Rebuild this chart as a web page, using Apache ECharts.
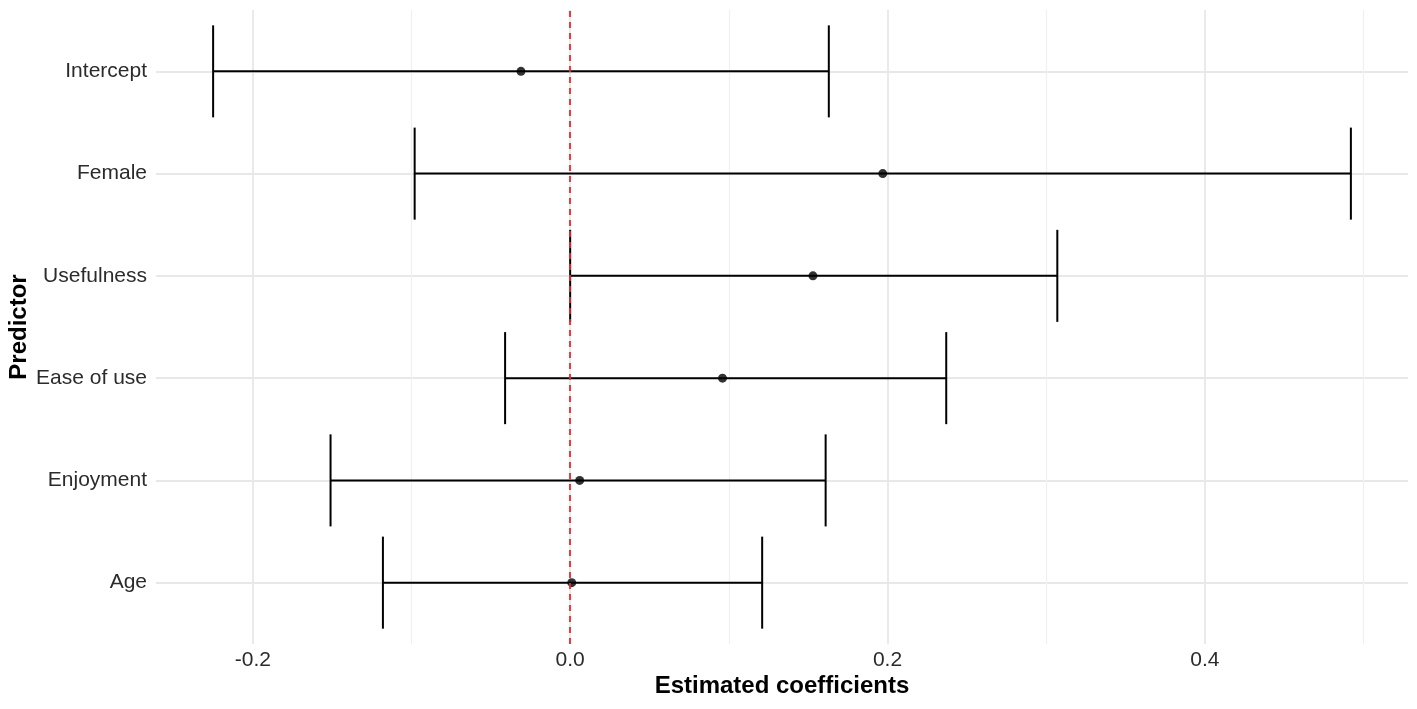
<!DOCTYPE html>
<html lang="en">
<head>
    <meta charset="UTF-8">
    <title>Estimated coefficients</title>
    <script src="https://cdn.jsdelivr.net/npm/echarts@6.0.0/dist/echarts.min.js"></script>
    <style>
        * { margin: 0; padding: 0; box-sizing: border-box; }
        html, body { width: 100%; height: 100%; background: #ffffff; }
        #chart { width: 1417px; height: 709px; }
    </style>
</head>
<body>
    <div id="chart"></div>

    <script>
        // predictors, top to bottom
        const predictors = ['Intercept', 'Female', 'Usefulness', 'Ease of use', 'Enjoyment', 'Age'];
        const estimates = [-0.031, 0.197, 0.153, 0.096, 0.006, 0.001];
        const lowerCI = [-0.225, -0.098, 0.000, -0.041, -0.151, -0.118];
        const upperCI = [0.163, 0.492, 0.307, 0.237, 0.161, 0.121];

        const xMin = -0.261;
        const xMax = 0.528;
        const minorShift = 0.1;   // second axis offset so its ticks fall on the minor breaks

        const font = "'Liberation Sans', Arial, sans-serif";
        const n = predictors.length;
        const yPos = i => n - i;

        const pointData = estimates.map((v, i) => [v, yPos(i)]);
        const barData = predictors.map((p, i) => [lowerCI[i], upperCI[i], yPos(i)]);

        function renderErrorBar(params, api) {
            const y = api.value(2);
            const left = api.coord([api.value(0), y]);
            const right = api.coord([api.value(1), y]);
            const half = api.size([0, 0.9])[1] / 2;
            const style = { stroke: '#000', lineWidth: 2 };
            return {
                type: 'group',
                children: [
                    { type: 'line', shape: { x1: left[0], y1: left[1], x2: right[0], y2: right[1] }, style: style },
                    { type: 'line', shape: { x1: left[0], y1: left[1] - half, x2: left[0], y2: left[1] + half }, style: style },
                    { type: 'line', shape: { x1: right[0], y1: right[1] - half, x2: right[0], y2: right[1] + half }, style: style }
                ]
            };
        }

        const chart = echarts.init(document.getElementById('chart'));

        chart.setOption({
            animation: false,
            backgroundColor: '#ffffff',
            textStyle: { fontFamily: font },
            grid: { left: 156, right: 9, top: 10, bottom: 65, containLabel: false, outerBoundsMode: 'none' },
            xAxis: [{
                type: 'value',
                min: xMin,
                max: xMax,
                name: 'Estimated coefficients',
                nameLocation: 'middle',
                nameGap: 30,
                nameMoveOverlap: false,
                nameTextStyle: { fontFamily: font, fontSize: 24, fontWeight: 'bold', color: '#000' },
                axisLine: { show: false },
                axisTick: { show: false },
                axisLabel: {
                    fontFamily: font, fontSize: 21, color: '#2b2b2b', margin: 6,
                    showMinLabel: false, showMaxLabel: false,
                    formatter: v => v.toFixed(1)
                },
                splitLine: {
                    show: true, showMinLine: false, showMaxLine: false,
                    lineStyle: { color: '#e8e8e8', width: 1.8 }
                }
            }, {
                type: 'value',
                position: 'bottom',
                min: xMin + minorShift,
                max: xMax + minorShift,
                axisLine: { show: false },
                axisTick: { show: false },
                axisLabel: { show: false },
                splitLine: {
                    show: true, showMinLine: false, showMaxLine: false,
                    lineStyle: { color: '#f0f0f0', width: 1.2 }
                }
            }],
            yAxis: {
                type: 'value',
                min: 0.4,
                max: n + 0.6,
                name: 'Predictor',
                nameLocation: 'middle',
                nameGap: 125,
                nameRotate: 90,
                nameMoveOverlap: false,
                nameTextStyle: { fontFamily: font, fontSize: 24, fontWeight: 'bold', color: '#000' },
                axisLine: { show: false },
                axisTick: { show: false },
                axisLabel: {
                    fontFamily: font, fontSize: 21, color: '#2b2b2b', margin: 9,
                    showMinLabel: false, showMaxLabel: false,
                    formatter: v => (Number.isInteger(v) && v >= 1 && v <= n) ? predictors[n - v] : ''
                },
                splitLine: {
                    show: true, showMinLine: false, showMaxLine: false,
                    lineStyle: { color: '#e8e8e8', width: 1.8 }
                }
            },
            series: [{
                type: 'custom',
                name: 'CI',
                xAxisIndex: 0,
                renderItem: renderErrorBar,
                encode: { x: [0, 1], y: 2 },
                data: barData,
                z: 2
            }, {
                type: 'scatter',
                name: 'Estimate',
                xAxisIndex: 0,
                data: pointData,
                symbol: 'circle',
                symbolSize: 9,
                itemStyle: { color: '#000' },
                z: 3,
                markLine: {
                    silent: true,
                    symbol: ['none', 'none'],
                    label: { show: false },
                    lineStyle: { color: '#f0262e', type: [6, 5], width: 1.8 },
                    data: [{ xAxis: 0 }],
                    z: 5
                }
            }]
        });
    </script>
</body>
</html>
